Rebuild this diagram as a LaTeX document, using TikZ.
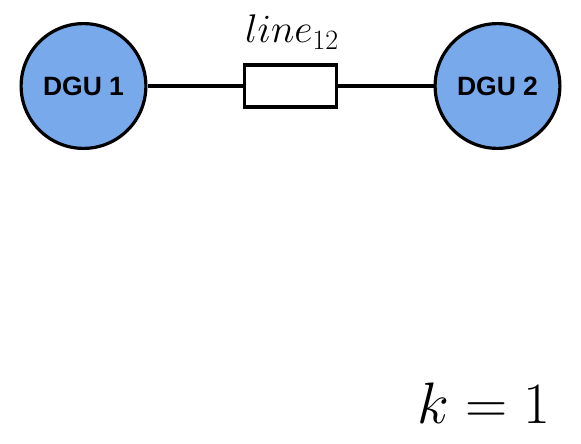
\RequirePackage{fix-cm}
\documentclass[tikz,border=0pt]{standalone}
\usepackage{fontspec}
\usepackage{amsmath}
\newfontfamily\dgufont{Liberation Sans}
\definecolor{dgublue}{RGB}{120,169,235}

\begin{document}
\begin{tikzpicture}[x=1pt, y=-1pt,
    dgu/.style={circle, draw, line width=3.2pt, fill=dgublue, minimum size=124.8pt, inner sep=0pt,
        font=\dgufont\bfseries\fontsize{26.5}{26.5}\selectfont},
    imp/.style={rectangle, draw, line width=3.2pt, fill=white, minimum width=91.8pt, minimum height=41.8pt, inner sep=0pt}]
    \useasboundingbox (0,0) rectangle (581,444);
    \node[dgu] (dgu1) at (83.5,86) {DGU 1};
    \node[dgu] (dgu2) at (497.5,86) {DGU 2};
    \node[imp] (line12) at (290.5,86) {};
    \draw[line width=3.2pt] (dgu1) -- (line12) (line12) -- (dgu2);
    \node[anchor=base, inner sep=0pt, font=\fontsize{40}{40}\selectfont] (lbl12) at (292,43) {$line_{12}$};
    \node[anchor=base east, inner sep=0pt, font=\fontsize{58.5}{58.5}\selectfont] (kval) at (551,423) {$k=1$};
    \end{tikzpicture}
\end{document}
